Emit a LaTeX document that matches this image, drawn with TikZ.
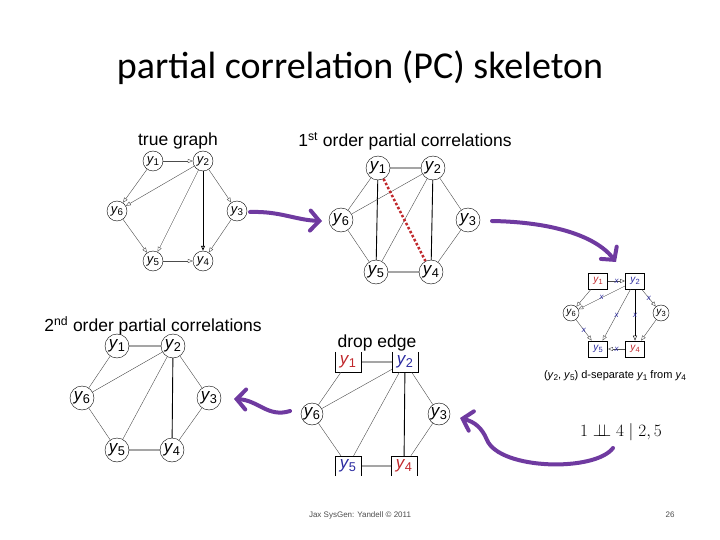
\documentclass[tikz,border=0pt]{standalone}
\usepackage{fontspec}
\setmainfont{Liberation Sans}
\newfontfamily\titlefont{Carlito}
\usetikzlibrary{arrows.meta}
\definecolor{pc}{HTML}{6F3AA0}
\definecolor{dred}{HTML}{C0282C}
\definecolor{dblue}{HTML}{2A2AA0}
\newcommand{\yy}[1]{\textit{y}\kern-0.02em\raisebox{-0.35ex}{\scalebox{0.75}{#1}}}
\begin{document}
\begin{tikzpicture}[x=1pt,y=-1pt,
 cn/.style={circle,draw,inner sep=0pt,minimum size=#1},
 sq/.style={rectangle,draw,inner sep=0pt,minimum width=26,minimum height=20},
 thin/.style={draw=black!70,line width=0.4pt},
 thk/.style={draw=black,line width=0.9pt},
 arr/.style={-{Triangle[length=5pt,width=4pt,open]},draw=black!70,line width=0.4pt},
 big/.style={draw=pc,line width=4pt,line cap=round,-{Straight Barb[length=9pt,width=20pt,line cap=round]}},
 xm/.style={text=dblue,font=\fontsize{8}{8}\selectfont\itshape,inner sep=0pt},
 lab/.style={font=\fontsize{17.5}{19}\selectfont}]
\useasboundingbox (0,0) rectangle (720,540);
\node[font=\titlefont\fontsize{38}{42}\selectfont] (title) at (360,68) {partial correlation (PC) skeleton};
% graph A true graph
\node[lab] (la) at (178,141) {true graph};
\begin{scope}[every node/.style={cn=20pt,font=\fontsize{13}{14}\selectfont}]
\node (a1) at (153,161) {\yy1}; \node (a2) at (203,161) {\yy2};
\node (a6) at (117,211) {\yy6}; \node (a3) at (237,211) {\yy3};
\node (a5) at (153,261) {\yy5}; \node (a4) at (203,261) {\yy4};
\end{scope}
\draw[arr] (a1)--(a2); \draw[arr] (a1)--(a6); \draw[arr] (a2)--(a6);
\draw[arr] (a2)--(a5); \draw[arr,draw=black,line width=0.8pt] (a2)--(a4); \draw[arr] (a2)--(a3);
\draw[arr] (a6)--(a5); \draw[arr] (a3)--(a4); \draw[arr] (a5)--(a4);
% graph B
\node[lab] (lb) at (405,141) {1\textsuperscript{st} order partial correlations};
\begin{scope}[every node/.style={cn=24pt,font=\fontsize{17}{18}\selectfont}]
\node (b1) at (378,168) {\yy1}; \node (b2) at (433,168) {\yy2};
\node (b6) at (341,220) {\yy6}; \node (b3) at (468,220) {\yy3};
\node (b5) at (376,272) {\yy5}; \node (b4) at (431,272) {\yy4};
\end{scope}
\draw[thk] (b1)--(b2) (b1)--(b5) (b2)--(b4) (b5)--(b4);
\draw[thin] (b1)--(b6) (b2)--(b6) (b2)--(b5) (b2)--(b3) (b6)--(b5) (b3)--(b4);
\draw[dred,line width=2.5pt,dotted] (b1)--(b4);
% graph C
\node[lab] (lc) at (153,326) {2\textsuperscript{nd} order partial correlations};
\begin{scope}[every node/.style={cn=24pt,font=\fontsize{17}{18}\selectfont}]
\node (c1) at (117,346) {\yy1}; \node (c2) at (173,346) {\yy2};
\node (c6) at (82,398) {\yy6}; \node (c3) at (209,398) {\yy3};
\node (c5) at (117,450) {\yy5}; \node (c4) at (172,450) {\yy4};
\end{scope}
\draw[thk] (c1)--(c2) (c2)--(c4) (c5)--(c4);
\draw[thin] (c1)--(c6) (c2)--(c6) (c2)--(c5) (c2)--(c3) (c6)--(c5) (c3)--(c4);
% graph D
\node[lab] (ld) at (377,343) {drop edge};
\begin{scope}[every node/.style={font=\fontsize{17}{18}\selectfont}]
\node[sq,draw=none,text=dred] (d1) at (348,362) {\yy1};
\node[sq,draw=none,text=dblue] (d2) at (405,362) {\yy2};
\node[cn=22pt] (d6) at (312,414) {\yy6}; \node[cn=22pt] (d3) at (439,414) {\yy3};
\node[sq,draw=none,text=dblue] (d5) at (348,466) {\yy5};
\node[sq,draw=none,text=dred] (d4) at (404,466) {\yy4};
\end{scope}
\foreach \n in {d1,d2} \draw (\n.north west)--(\n.south west)--(\n.south east)--(\n.north east);
\foreach \n in {d4,d5} \draw (\n.south west)--(\n.north west)--(\n.north east)--(\n.south east);
\draw[thk] (d1)--(d2) (d2)--(d4) (d5)--(d4);
\draw[thin] (d1)--(d6) (d2)--(d6) (d2)--(d5) (d2)--(d3) (d6)--(d5) (d3)--(d4);
% graph E
\begin{scope}[every node/.style={font=\fontsize{10}{10}\selectfont}]
\node[draw,line width=0.8pt,minimum width=19pt,minimum height=16pt,inner sep=0pt,text=dred] (e1) at (598,281) {\yy1};
\node[draw,line width=0.8pt,minimum width=19pt,minimum height=16pt,inner sep=0pt,text=dblue] (e2) at (635,281) {\yy2};
\node[cn=16pt] (e6) at (571,313) {\yy6}; \node[cn=16pt] (e3) at (661,313) {\yy3};
\node[draw,line width=0.8pt,minimum width=19pt,minimum height=16pt,inner sep=0pt,text=dblue] (e5) at (598,349) {\yy5};
\node[draw,line width=0.8pt,minimum width=19pt,minimum height=16pt,inner sep=0pt,text=dred] (e4) at (635,349) {\yy4};
\end{scope}
\draw[arr] (e1)-- node[xm]{x} (e2);
\draw[arr] (e1)--(e6);
\draw[arr] (e2)-- node[xm]{x} (e6);
\draw[arr] (e2)-- node[xm]{x} (e5);
\draw[arr,draw=black] (e2)-- node[xm]{x} (e4);
\draw[arr] (e2)-- node[xm]{x} (e3);
\draw[arr] (e6)-- node[xm]{x} (e5);
\draw[arr] (e3)--(e4);
\draw[arr] (e4)-- node[xm]{x} (e5);
\node[font=\fontsize{11}{12}\selectfont] (et) at (615,376) {(\yy2, \yy5) d-separate \yy1 from \yy4};
\node[font=\fontsize{19}{20}\selectfont] (ind) at (621,432) {$1 \perp\!\!\!\perp 4 \mid 2,5$};
% purple arrows
\coordinate (p1) at (250,212); \coordinate (p1e) at (322,221);
\draw[big] (p1) .. controls (280,211) and (295,220) .. (p1e);
\coordinate (p2) at (492,221); \coordinate (p2e) at (616,262);
\draw[big] (p2) .. controls (550,222) and (595,235) .. (p2e);
\coordinate (p3) at (613,448); \coordinate (p3e) at (460,418);
\draw[big] (p3) .. controls (595,472) and (500,470) .. (487,440) .. controls (482,428) and (475,422) .. (p3e);
\coordinate (p4) at (290,411); \coordinate (p4e) at (234,399);
\draw[big] (p4) .. controls (268,418) and (258,400) .. (p4e);
% footer
\node[font=\fontsize{8}{10}\selectfont,text=black!70] (ft) at (360,515) {Jax SysGen: Yandell © 2011};
\node[font=\fontsize{8}{10}\selectfont,text=black!70] (pg) at (670,515) {26};
\end{tikzpicture}
\end{document}
